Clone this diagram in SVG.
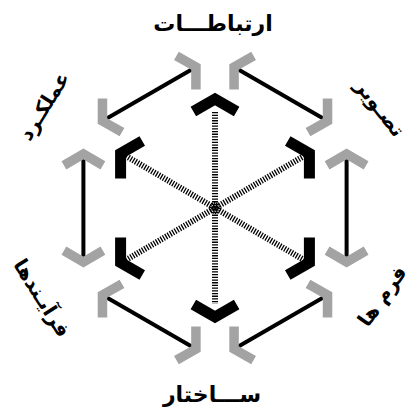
<svg xmlns="http://www.w3.org/2000/svg" width="414" height="411" viewBox="0 0 414 411">
<style>
.edge{stroke:#000;stroke-width:4;fill:none}
.hatch{stroke:#000;stroke-width:6;stroke-dasharray:1.3 1.4;fill:none}
.gch{stroke:#a3a3a3;stroke-width:9.5;fill:none;stroke-linejoin:miter;stroke-miterlimit:10}
.bch{stroke:#000;stroke-width:11;fill:none;stroke-linejoin:miter;stroke-miterlimit:10}
.lbl{font-family:"DejaVu Sans","Noto Sans",sans-serif;font-weight:bold;fill:#000;text-anchor:middle}
</style>
<defs>
<path id="gc" d="M-19.5,11.3 L0,0 L19.5,11.3" class="gch"/>
<path id="bc" d="M-21.65,12.5 L0,0 L21.65,12.5" class="bch"/>
</defs>
<rect width="414" height="411" fill="#fff"/>
<g id="connectors">
<line class="hatch" x1="215" y1="112" x2="215" y2="304"/>
<line class="hatch" x1="126" y1="156" x2="304" y2="260"/>
<line class="hatch" x1="126" y1="260" x2="304" y2="156"/>
<line class="edge" x1="346.6" y1="154" x2="346.6" y2="262"/>
<line class="edge" x1="83.4" y1="154" x2="83.4" y2="262"/>
<line class="edge" x1="234" y1="67" x2="327.6" y2="121"/>
<line class="edge" x1="196" y1="67" x2="102.4" y2="121"/>
<line class="edge" x1="234" y1="349" x2="327.6" y2="295"/>
<line class="edge" x1="196" y1="349" x2="102.4" y2="295"/>
<use href="#gc" transform="translate(346.6,154)"/>
<use href="#gc" transform="translate(346.6,262) rotate(180)"/>
<use href="#gc" transform="translate(83.4,154)"/>
<use href="#gc" transform="translate(83.4,262) rotate(180)"/>
<use href="#gc" transform="translate(234.05,67) rotate(-60)"/>
<use href="#gc" transform="translate(327.55,121) rotate(120)"/>
<use href="#gc" transform="translate(195.95,67) rotate(60)"/>
<use href="#gc" transform="translate(102.45,121) rotate(-120)"/>
<use href="#gc" transform="translate(234.05,349) rotate(240)"/>
<use href="#gc" transform="translate(327.55,295) rotate(60)"/>
<use href="#gc" transform="translate(195.95,349) rotate(120)"/>
<use href="#gc" transform="translate(102.45,295) rotate(-60)"/>
</g>
<g id="inner">
<use href="#bc" transform="translate(215,99)"/>
<use href="#bc" transform="translate(309.4,153.5) rotate(60)"/>
<use href="#bc" transform="translate(309.4,262.5) rotate(120)"/>
<use href="#bc" transform="translate(215,317) rotate(180)"/>
<use href="#bc" transform="translate(120.6,262.5) rotate(240)"/>
<use href="#bc" transform="translate(120.6,153.5) rotate(300)"/>
</g>
<g id="center">
<circle cx="215" cy="208" r="5" fill="none" stroke="#000" stroke-width="2" stroke-dasharray="1.2 1"/>
<circle cx="215" cy="208" r="2" fill="none" stroke="#000" stroke-width="1.2"/>
</g>
<g id="n-top"><text class="lbl" x="213" y="31" font-size="22">ارتباطـــات</text></g>
<g id="n-bottom"><text class="lbl" x="212" y="402" font-size="22">ســـاختار</text></g>
<g id="n-ul"><text class="lbl" transform="translate(44,106) rotate(-58)" x="0" y="7" font-size="20">عملکـرد</text></g>
<g id="n-ur"><text class="lbl" transform="translate(380,108) rotate(52)" x="0" y="7" font-size="20">تصـویر</text></g>
<g id="n-ll"><text class="lbl" transform="translate(42,298) rotate(58)" x="0" y="7" font-size="20">فرآیـندها</text></g>
<g id="n-lr"><text class="lbl" transform="translate(382,296) rotate(-55)" x="0" y="7" font-size="20">فرم ها</text></g>
</svg>
